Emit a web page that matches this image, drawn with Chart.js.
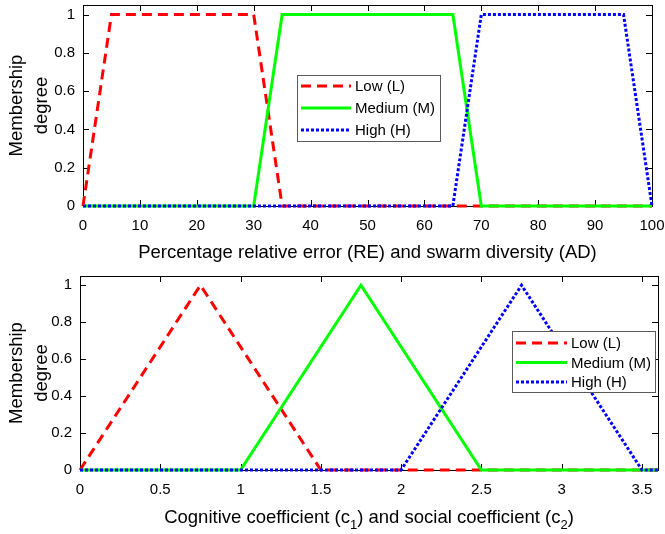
<!DOCTYPE html>
<html>
<head>
<meta charset="utf-8">
<script src="https://cdn.jsdelivr.net/npm/chart.js@4"></script>
<style>
  html, body { margin: 0; padding: 0; background: #fff; }
  canvas { display: block; }
</style>
</head>
<body>
<canvas id="errorChart" width="665" height="267"></canvas>
<canvas id="coefChart" width="665" height="267"></canvas>
<script>
// series names
const seriesNames = ['Low (L)', 'Medium (M)', 'High (H)'];

// top plot: percentage relative error / swarm diversity
const errLowX = [0, 5, 30, 35, 100];
const errLowY = [0, 1, 1, 0, 0];
const errMedX = [0, 30, 35, 65, 70, 100];
const errMedY = [0, 0, 1, 1, 0, 0];
const errHighX = [0, 65, 70, 95, 100];
const errHighY = [0, 0, 1, 1, 0];
const errTicks = [0, 10, 20, 30, 40, 50, 60, 70, 80, 90, 100];

// bottom plot: cognitive / social coefficient
const coefLowX = [0, 0.75, 1.5, 3.6];
const coefLowY = [0, 1, 0, 0];
const coefMedX = [0, 1, 1.75, 2.5, 3.6];
const coefMedY = [0, 0, 1, 0, 0];
const coefHighX = [0, 2, 2.75, 3.5, 3.6];
const coefHighY = [0, 0, 1, 0, 0];
const coefTicks = [0, 0.5, 1, 1.5, 2, 2.5, 3, 3.5];

const memberTicks = [0, 0.2, 0.4, 0.6, 0.8, 1];

const FONT = '"Liberation Sans", Arial, sans-serif';

const toPoints = (xs, ys) => xs.map((x, i) => ({ x: x, y: ys[i] }));

function makeDatasets(low, med, high) {
  return [
    { label: seriesNames[0], data: low, borderColor: '#ff0000', borderWidth: 3, borderDash: [10, 6], order: 3 },
    { label: seriesNames[1], data: med, borderColor: '#00ff00', borderWidth: 3, order: 2 },
    { label: seriesNames[2], data: high, borderColor: '#0000ff', borderWidth: 3, borderDash: [3, 2], order: 1 }
  ].map(d => Object.assign(d, { pointRadius: 0, tension: 0, fill: false, clip: false, borderCapStyle: 'butt' }));
}

// no extra room for overhanging tick labels
function noPad(s) {
  s.paddingTop = 0; s.paddingBottom = 0; s.paddingLeft = 0; s.paddingRight = 0;
}

// matlab style box with ticks pointing inward on all four sides
const boxAxes = {
  id: 'boxAxes',
  beforeDatasetsDraw(chart) {
    const { ctx, chartArea: a } = chart;
    const x = chart.scales.x, y = chart.scales.y;
    const len = 6;
    ctx.save();
    ctx.strokeStyle = '#000';
    ctx.lineWidth = 1;
    ctx.strokeRect(Math.round(a.left) + 0.5, Math.round(a.top) + 0.5,
      Math.round(a.right - a.left), Math.round(a.bottom - a.top));
    ctx.beginPath();
    x.ticks.forEach(t => {
      const px = Math.round(x.getPixelForValue(t.value)) + 0.5;
      ctx.moveTo(px, a.bottom); ctx.lineTo(px, a.bottom - len);
      ctx.moveTo(px, a.top); ctx.lineTo(px, a.top + len);
    });
    y.ticks.forEach(t => {
      const py = Math.round(y.getPixelForValue(t.value)) + 0.5;
      ctx.moveTo(a.left, py); ctx.lineTo(a.left + len, py);
      ctx.moveTo(a.right, py); ctx.lineTo(a.right - len, py);
    });
    ctx.stroke();
    ctx.restore();
  }
};

// legend box drawn inside the axes
const boxLegend = {
  id: 'boxLegend',
  afterDraw(chart, args, o) {
    const { ctx } = chart;
    ctx.save();
    ctx.fillStyle = '#fff';
    ctx.fillRect(o.left, o.top, o.width, o.height);
    ctx.strokeStyle = '#5a5a5a';
    ctx.lineWidth = 1;
    ctx.strokeRect(o.left + 0.5, o.top + 0.5, o.width, o.height);
    chart.data.datasets.forEach((ds, i) => {
      const yy = o.top + o.firstRow + i * o.rowGap;
      ctx.strokeStyle = ds.borderColor;
      ctx.lineWidth = ds.borderWidth;
      ctx.lineCap = 'butt';
      ctx.setLineDash(ds.borderDash || []);
      ctx.beginPath();
      ctx.moveTo(o.left + o.sampleX, yy);
      ctx.lineTo(o.left + o.sampleX + o.sampleLen, yy);
      ctx.stroke();
      ctx.setLineDash([]);
      ctx.fillStyle = '#000';
      ctx.font = '15px ' + FONT;
      ctx.textBaseline = 'middle';
      ctx.fillText(ds.label, o.left + o.sampleX + o.sampleLen + 4, yy + 1);
    });
    ctx.restore();
  }
};

// x label with subscripts for the bottom plot
const subTitle = {
  id: 'subTitle',
  afterDraw(chart, args, o) {
    if (!o.parts) return;
    const { ctx, chartArea: a } = chart;
    ctx.save();
    ctx.fillStyle = '#000';
    ctx.textBaseline = 'alphabetic';
    const mainFont = '18.5px ' + FONT, subFont = '13px ' + FONT;
    let total = 0;
    o.parts.forEach(p => { ctx.font = p.sub ? subFont : mainFont; total += ctx.measureText(p.text).width; });
    let xx = (a.left + a.right) / 2 - total / 2;
    o.parts.forEach(p => {
      ctx.font = p.sub ? subFont : mainFont;
      ctx.fillText(p.text, xx, o.baseline + (p.sub ? 6 : 0));
      xx += ctx.measureText(p.text).width;
    });
    ctx.restore();
  }
};

function makeOptions(cfg) {
  return {
    responsive: false,
    animation: false,
    layout: { padding: { top: cfg.padTop, right: cfg.padRight, left: 0, bottom: 0 } },
    plugins: {
      legend: { display: false },
      tooltip: { enabled: false },
      boxLegend: cfg.legend,
      subTitle: { parts: cfg.titleParts, baseline: cfg.titleBaseline }
    },
    scales: {
      x: {
        type: 'linear',
        min: cfg.xMin,
        max: cfg.xMax,
        grid: { display: false, drawTicks: false },
        border: { display: false },
        afterBuildTicks: s => { s.ticks = cfg.xTicks.map(v => ({ value: v })); },
        afterFit: s => { s.height = cfg.xHeight; noPad(s); },
        ticks: {
          autoSkip: false, maxRotation: 0, padding: 11, color: '#000',
          font: { family: FONT, size: 15 },
          callback: v => String(v)
        },
        title: {
          display: !!cfg.xTitle,
          text: cfg.xTitle || '',
          color: '#000',
          font: { family: FONT, size: 18.5 },
          padding: { top: 0, bottom: 3 }
        }
      },
      y: {
        min: 0,
        max: 1.05,
        grid: { display: false, drawTicks: false },
        border: { display: false },
        afterBuildTicks: s => { s.ticks = memberTicks.map(v => ({ value: v })); },
        afterFit: s => { s.width = cfg.yWidth; noPad(s); },
        ticks: {
          autoSkip: false, padding: 8, color: '#000',
          font: { family: FONT, size: 15 },
          callback: v => String(v)
        },
        title: {
          display: true,
          text: ['Membership', 'degree'],
          color: '#000',
          font: { family: FONT, size: 18.5, lineHeight: 1.35 },
          padding: { top: 4, bottom: 0 }
        }
      }
    }
  };
}

new Chart(document.getElementById('errorChart'), {
  type: 'line',
  data: {
    datasets: makeDatasets(toPoints(errLowX, errLowY), toPoints(errMedX, errMedY), toPoints(errHighX, errHighY))
  },
  options: makeOptions({
    padTop: 5, padRight: 13, yWidth: 83, xHeight: 61,
    xMin: 0, xMax: 100, xTicks: errTicks,
    xTitle: 'Percentage relative error (RE) and swarm diversity (AD)',
    legend: { left: 297, top: 75, width: 143, height: 66, firstRow: 11, rowGap: 22, sampleX: 4, sampleLen: 50 }
  }),
  plugins: [boxAxes, boxLegend, subTitle]
});

new Chart(document.getElementById('coefChart'), {
  type: 'line',
  data: {
    datasets: makeDatasets(toPoints(coefLowX, coefLowY), toPoints(coefMedX, coefMedY), toPoints(coefHighX, coefHighY))
  },
  options: makeOptions({
    padTop: 9, padRight: 7, yWidth: 80, xHeight: 64,
    xMin: 0, xMax: 3.6, xTicks: coefTicks,
    titleParts: [
      { text: 'Cognitive coefficient (c' }, { text: '1', sub: true },
      { text: ') and social coefficient (c' }, { text: '2', sub: true }, { text: ')' }
    ],
    titleBaseline: 256,
    legend: { left: 512, top: 64, width: 143, height: 61, firstRow: 12, rowGap: 19.5, sampleX: 4, sampleLen: 51 }
  }),
  plugins: [boxAxes, boxLegend, subTitle]
});
</script>
</body>
</html>
